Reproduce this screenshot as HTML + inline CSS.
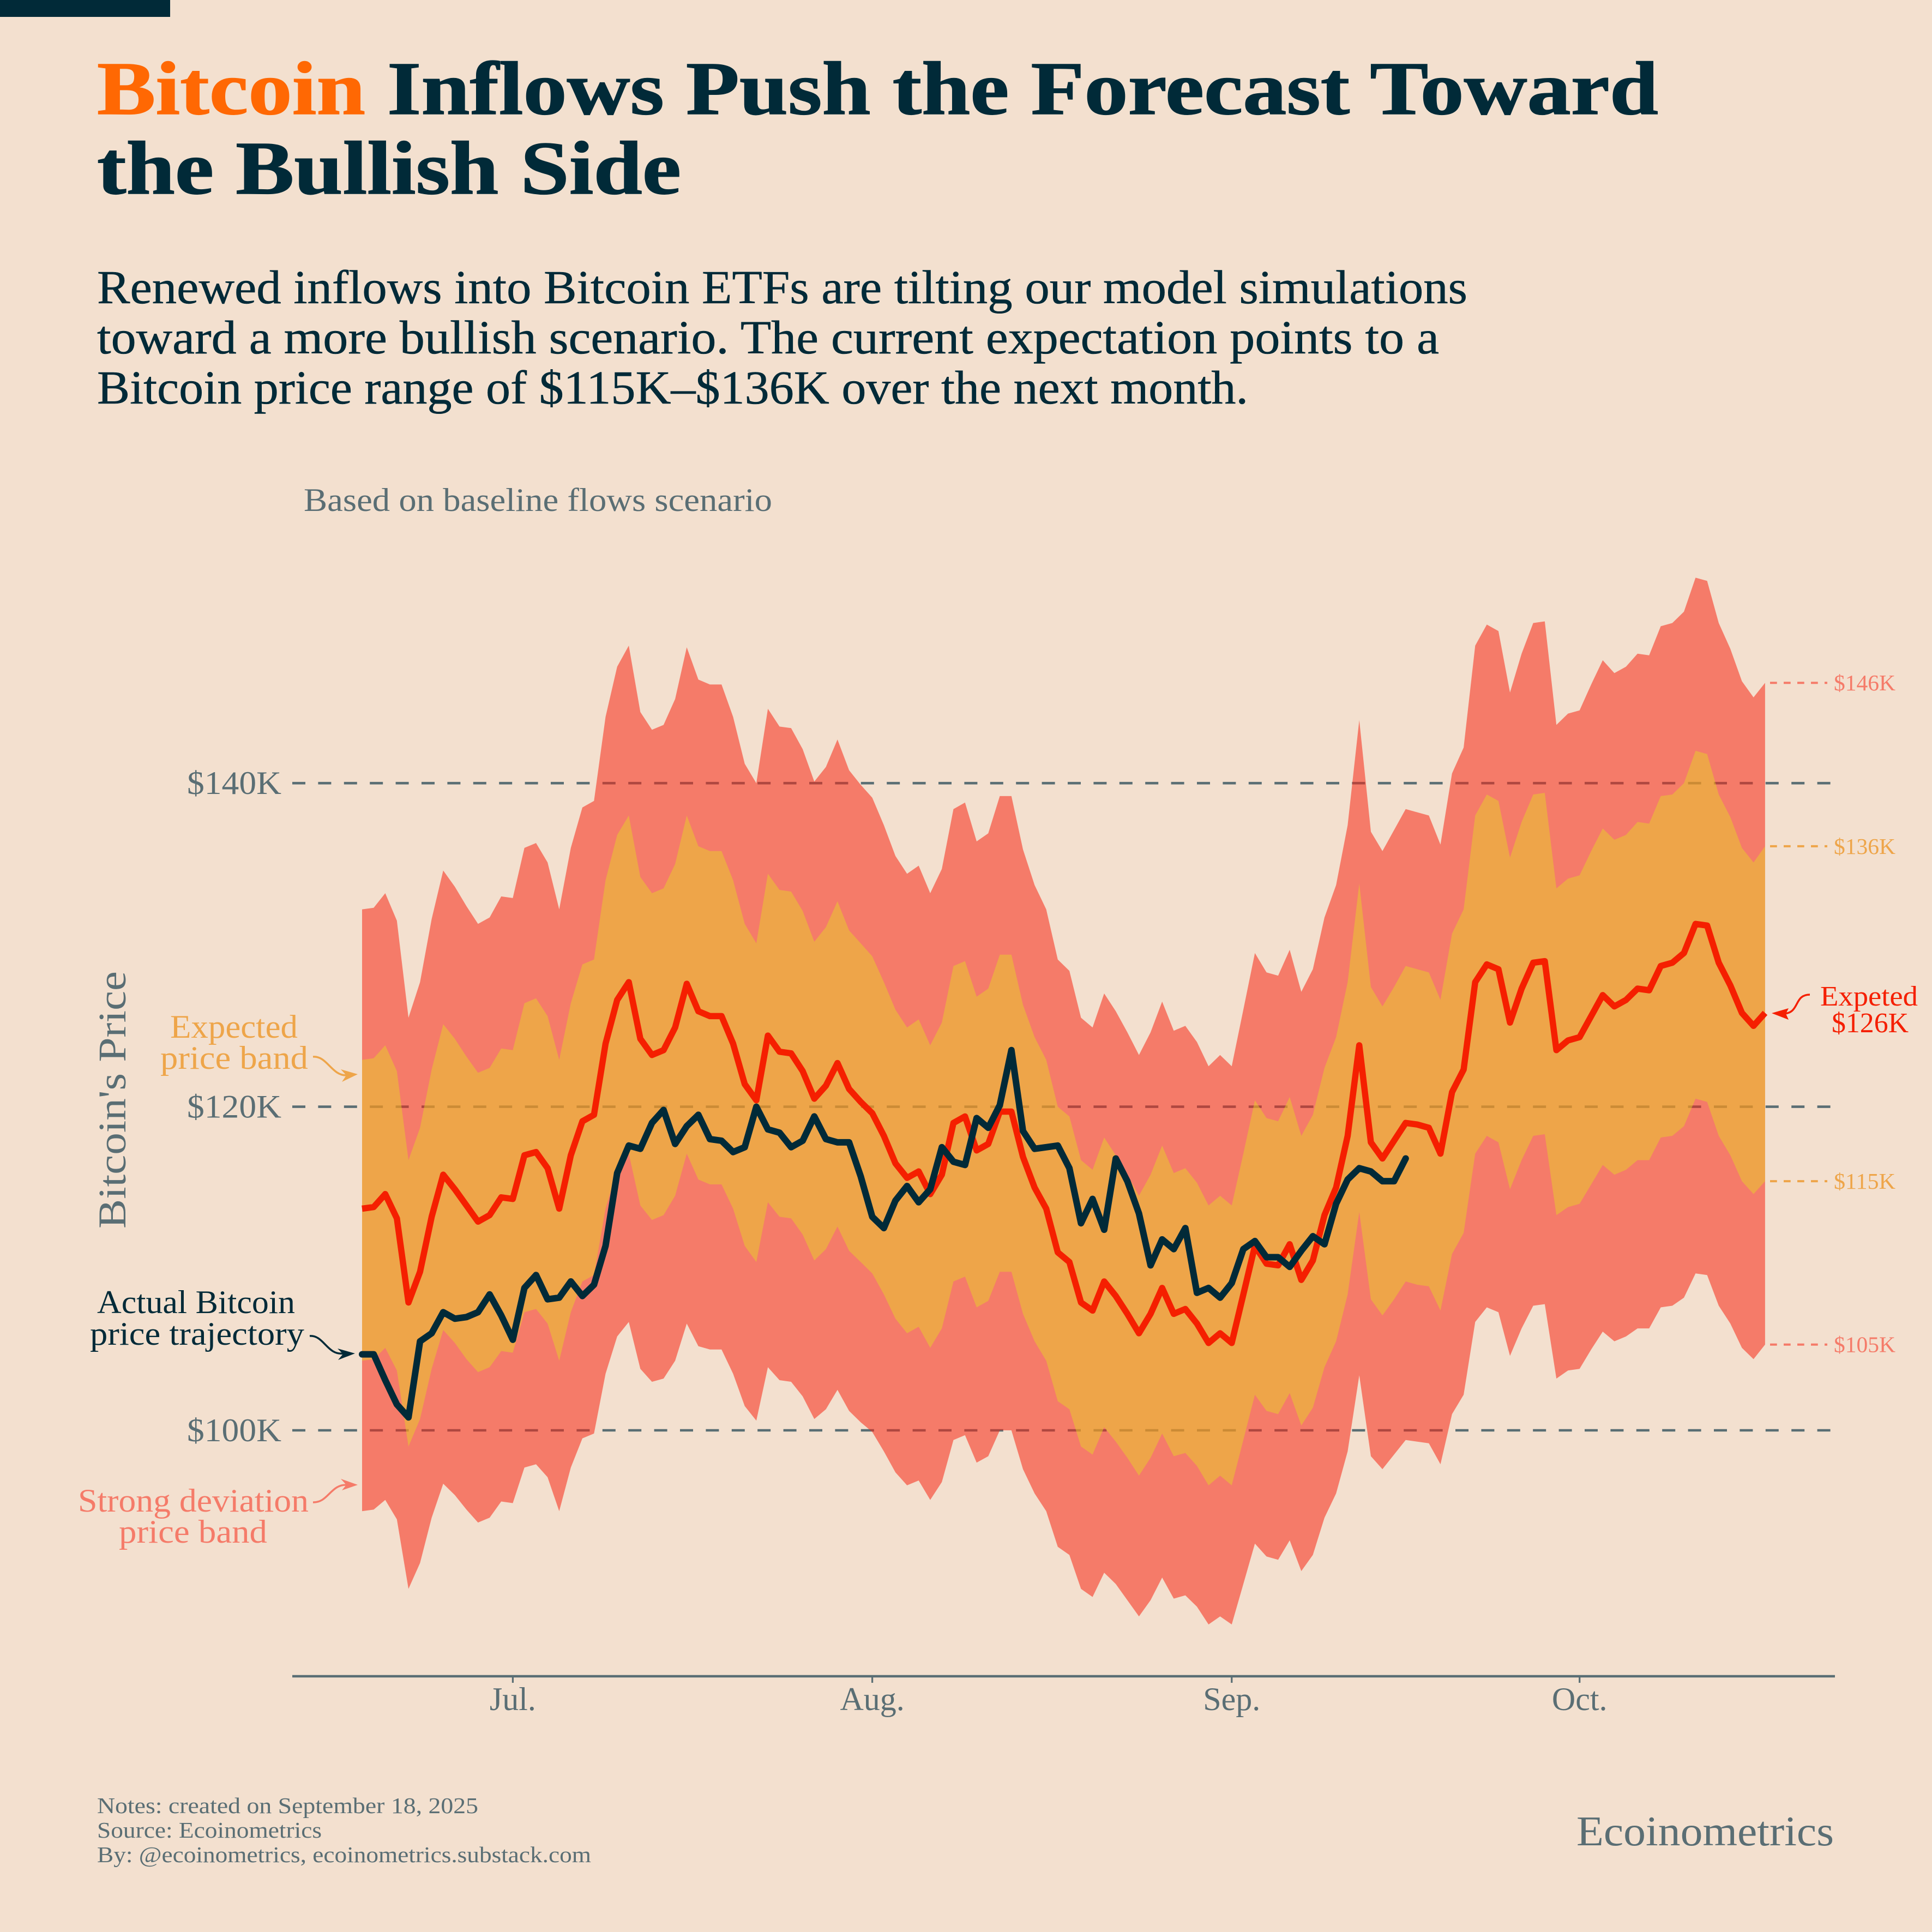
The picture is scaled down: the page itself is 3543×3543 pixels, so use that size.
<!DOCTYPE html>
<html lang="en">
<head>
<meta charset="utf-8">
<title>Bitcoin Inflows Push the Forecast Toward the Bullish Side</title>
<style>
html,body{margin:0;padding:0;background:#f3e0cf;}
svg{display:block;font-family:"Liberation Serif",serif;}
</style>
</head>
<body>
<svg id="chart" xmlns="http://www.w3.org/2000/svg" width="3543" height="3543" viewBox="0 0 3543 3543">
  <rect x="0" y="0" width="3543" height="3543" fill="#f3e0cf"/>
  <rect x="0" y="0" width="312" height="31" fill="#012a38"/>

  <g font-weight="700" font-size="139" fill="#012a38">
    <text x="178" y="209" fill="#ff6803" stroke="#ff6803" stroke-width="1.5" textLength="492" lengthAdjust="spacingAndGlyphs">Bitcoin</text>
    <text x="710" y="209" stroke="#012a38" stroke-width="1.5" textLength="2331" lengthAdjust="spacingAndGlyphs">Inflows Push the Forecast Toward</text>
    <text x="178" y="355" stroke="#012a38" stroke-width="1.5" textLength="1071" lengthAdjust="spacingAndGlyphs">the Bullish Side</text>
  </g>

  <g font-size="87" fill="#012a38" stroke="#012a38" stroke-width="0.6">
    <text x="178" y="556" textLength="2513" lengthAdjust="spacingAndGlyphs">Renewed inflows into Bitcoin ETFs are tilting our model simulations</text>
    <text x="178" y="648" textLength="2461" lengthAdjust="spacingAndGlyphs">toward a more bullish scenario. The current expectation points to a</text>
    <text x="178" y="740" textLength="2111" lengthAdjust="spacingAndGlyphs">Bitcoin price range of $115K–$136K over the next month.</text>
  </g>

  <text x="557" y="937" font-size="60" fill="#5a6e74" textLength="859" lengthAdjust="spacingAndGlyphs">Based on baseline flows scenario</text>

  <text transform="translate(230,2253) rotate(-90)" font-size="72" fill="#5a6e74" textLength="472" lengthAdjust="spacingAndGlyphs">Bitcoin's Price</text>

  <g id="grid"></g>
  <g id="bands"></g>
  <g id="lines"></g>
  <g id="xaxis"></g>
  <g id="yticks"></g>
  <g id="endlabels"></g>

  <g fill="#eea549" font-size="60">
    <text x="312" y="1903" textLength="234" lengthAdjust="spacingAndGlyphs">Expected</text>
    <text x="294" y="1960" textLength="271" lengthAdjust="spacingAndGlyphs">price band</text>
    <path d="M574,1938 C600,1936 608,1973 636,1972" fill="none" stroke="#eea549" stroke-width="3.5"/>
    <polygon points="656,1970 625,1961 635,1972 627,1984"/>
  </g>

  <g fill="#012a38" font-size="60">
    <text x="178" y="2408" textLength="363" lengthAdjust="spacingAndGlyphs">Actual Bitcoin</text>
    <text x="165" y="2466" textLength="393" lengthAdjust="spacingAndGlyphs">price trajectory</text>
    <path d="M568,2450 C594,2448 600,2486 630,2482" fill="none" stroke="#012a38" stroke-width="3.5"/>
    <polygon points="651,2482 619,2473 629,2483 620,2494"/>
  </g>

  <g fill="#f57b69" font-size="60">
    <text x="143" y="2772" textLength="423" lengthAdjust="spacingAndGlyphs">Strong deviation</text>
    <text x="218" y="2829" textLength="272" lengthAdjust="spacingAndGlyphs">price band</text>
    <path d="M574,2755 C602,2756 606,2722 636,2723" fill="none" stroke="#f57b69" stroke-width="3.5"/>
    <polygon points="656,2723 625,2712 635,2723 627,2733"/>
  </g>

  <g fill="#f51f00" font-size="52">
    <text x="3338" y="1844" textLength="179" lengthAdjust="spacingAndGlyphs">Expeted</text>
    <text x="3359" y="1893" textLength="141" lengthAdjust="spacingAndGlyphs">$126K</text>
    <path d="M3319,1824 C3288,1824 3302,1860 3268,1859" fill="none" stroke="#f51f00" stroke-width="3.5"/>
    <polygon points="3249,1858 3280,1849 3275,1859 3280,1870"/>
  </g>

  <g font-size="41" fill="#5a6e74">
    <text x="178" y="3325" textLength="699" lengthAdjust="spacingAndGlyphs">Notes: created on September 18, 2025</text>
    <text x="178" y="3370" textLength="412" lengthAdjust="spacingAndGlyphs">Source: Ecoinometrics</text>
    <text x="178" y="3415" textLength="906" lengthAdjust="spacingAndGlyphs">By: @ecoinometrics, ecoinometrics.substack.com</text>
  </g>

  <text x="2891" y="3384" font-size="77" fill="#5a6e74" textLength="472" lengthAdjust="spacingAndGlyphs">Ecoinometrics</text>
</svg>

<script>
// Daily series from 2025-06-18, values in $ thousands.
const startDate = '2025-06-18';
const upperStrong = [132.2,132.3,133.2,131.5,125.5,127.7,131.6,134.6,133.6,132.4,131.3,131.7,133.0,132.9,136.0,136.3,135.1,132.2,136.0,138.5,138.9,144.1,147.2,148.5,144.4,143.3,143.6,145.2,148.4,146.4,146.1,146.1,144.1,141.2,140.0,144.6,143.5,143.4,142.1,140.1,141.0,142.7,140.8,139.9,139.1,137.4,135.5,134.4,134.9,133.2,134.7,138.4,138.8,136.4,136.9,139.2,139.2,135.9,133.7,132.2,129.1,128.4,125.5,124.9,127.0,125.9,124.6,123.2,124.6,126.5,124.7,125.0,124.0,122.5,123.2,122.5,126.0,129.5,128.3,128.1,129.7,127.1,128.5,131.7,133.7,137.4,143.9,137.0,135.8,137.1,138.4,138.2,138.0,136.2,140.6,142.2,148.5,149.8,149.4,145.6,148.0,149.9,150.0,143.6,144.3,144.5,146.1,147.6,146.8,147.2,148.0,147.9,149.7,149.9,150.6,152.7,152.5,149.9,148.3,146.3,145.3,146.2];
const upperExpected = [122.9,123.0,123.8,122.2,116.7,118.7,122.3,125.1,124.2,123.1,122.1,122.4,123.6,123.5,126.4,126.7,125.6,122.9,126.4,128.8,129.1,134.0,136.8,138.0,134.2,133.2,133.5,135.0,138.0,136.1,135.8,135.8,134.0,131.3,130.1,134.4,133.4,133.3,132.1,130.2,131.1,132.7,130.9,130.1,129.3,127.7,126.0,124.9,125.4,123.8,125.2,128.7,129.0,126.8,127.3,129.4,129.4,126.3,124.3,122.9,120.0,119.4,116.7,116.1,118.1,117.0,115.8,114.5,115.8,117.6,115.9,116.2,115.3,113.9,114.5,113.9,117.1,120.4,119.3,119.1,120.6,118.2,119.5,122.4,124.3,127.7,133.8,127.4,126.2,127.4,128.7,128.5,128.3,126.6,130.7,132.2,138.0,139.3,138.9,135.4,137.6,139.3,139.4,133.5,134.1,134.3,135.8,137.2,136.5,136.8,137.6,137.5,139.2,139.3,140.0,142.0,141.8,139.3,137.9,136.0,135.1,136.1];
const forecastPrice = [113.7,113.8,114.6,113.1,107.9,109.8,113.2,115.8,114.9,113.9,112.9,113.3,114.4,114.3,117.0,117.2,116.2,113.7,117.0,119.1,119.5,123.9,126.6,127.7,124.2,123.2,123.5,124.9,127.6,125.9,125.6,125.6,123.9,121.4,120.4,124.4,123.4,123.3,122.2,120.5,121.3,122.7,121.1,120.3,119.6,118.2,116.5,115.6,116.0,114.6,115.8,119.0,119.4,117.3,117.7,119.7,119.7,116.9,115.0,113.7,111.0,110.4,107.9,107.4,109.2,108.3,107.2,106.0,107.2,108.8,107.2,107.5,106.6,105.4,106.0,105.4,108.4,111.4,110.3,110.2,111.5,109.3,110.5,113.3,115.0,118.2,123.8,117.8,116.8,117.9,119.0,118.9,118.7,117.1,120.9,122.3,127.7,128.8,128.5,125.2,127.3,128.9,129.0,123.5,124.1,124.3,125.6,126.9,126.2,126.6,127.3,127.2,128.7,128.9,129.5,131.3,131.2,128.9,127.5,125.8,125.0,125.8];
const lowerExpected = [104.3,104.4,105.1,103.7,99.0,100.7,103.8,106.2,105.4,104.4,103.6,103.9,104.9,104.8,107.3,107.5,106.6,104.3,107.3,109.2,109.6,113.7,116.1,117.1,113.9,113.0,113.3,114.5,117.1,115.5,115.2,115.2,113.7,111.4,110.4,114.1,113.2,113.1,112.1,110.5,111.2,112.6,111.1,110.4,109.7,108.4,106.9,106.0,106.4,105.1,106.3,109.2,109.5,107.6,108.0,109.8,109.8,107.2,105.5,104.3,101.8,101.3,99.0,98.5,100.2,99.3,98.3,97.2,98.3,99.8,98.4,98.6,97.8,96.6,97.2,96.6,99.4,102.2,101.2,101.0,102.3,100.3,101.4,103.9,105.5,108.4,113.5,108.1,107.1,108.1,109.2,109.0,108.9,107.4,110.9,112.2,117.1,118.2,117.8,114.9,116.7,118.2,118.3,113.3,113.8,114.0,115.2,116.4,115.8,116.1,116.7,116.7,118.1,118.2,118.8,120.5,120.3,118.2,117.0,115.4,114.6,115.4];
const lowerStrong = [95.0,95.1,95.7,94.5,90.2,91.8,94.6,96.7,96.0,95.1,94.3,94.6,95.6,95.5,97.7,97.9,97.1,95.0,97.7,99.5,99.8,103.5,105.8,106.7,103.8,103.0,103.2,104.3,106.6,105.2,105.0,105.0,103.5,101.5,100.6,103.9,103.1,103.0,102.1,100.7,101.3,102.5,101.2,100.5,99.9,98.7,97.4,96.6,96.9,95.7,96.8,99.4,99.7,98.0,98.4,100.0,100.0,97.6,96.1,95.0,92.8,92.3,90.2,89.7,91.2,90.5,89.5,88.5,89.5,90.9,89.6,89.8,89.1,88.0,88.5,88.0,90.5,93.0,92.2,92.0,93.2,91.3,92.3,94.6,96.1,98.7,103.4,98.4,97.6,98.5,99.4,99.3,99.2,97.9,101.0,102.2,106.7,107.6,107.3,104.6,106.3,107.7,107.8,103.2,103.7,103.8,105.0,106.1,105.5,105.8,106.3,106.3,107.6,107.7,108.2,109.7,109.6,107.7,106.6,105.1,104.4,105.3];
const actualPrice = [104.7,104.7,103.1,101.6,100.8,105.5,106.0,107.3,106.9,107.0,107.3,108.4,107.1,105.6,108.8,109.6,108.1,108.2,109.2,108.3,109.0,111.4,115.9,117.6,117.4,119.0,119.8,117.7,118.8,119.5,118.0,117.9,117.2,117.5,120.0,118.6,118.4,117.5,117.9,119.4,118.0,117.8,117.8,115.7,113.2,112.5,114.2,115.1,114.1,114.9,117.5,116.6,116.4,119.3,118.7,120.1,123.5,118.5,117.4,117.5,117.6,116.2,112.8,114.3,112.4,116.8,115.4,113.4,110.2,111.8,111.2,112.5,108.5,108.8,108.2,109.1,111.2,111.7,110.7,110.7,110.1,111.1,112.0,111.5,114.0,115.5,116.2,116.0,115.4,115.4,116.8];
const yTickValues = [100,120,140];
const yTickLabels = ['$100K','$120K','$140K'];
const monthDates = ['2025-07-01','2025-08-01','2025-09-01','2025-10-01'];
const monthLabels = ['Jul.','Aug.','Sep.','Oct.'];
const endBandLabels = ['$146K','$136K','$115K','$105K'];

const NS = 'http://www.w3.org/2000/svg';
const xStart = 664, xStep = 21.264;
const yAt100 = 2623, yPerK = 29.67;
function xScale(i){ return xStart + i * xStep; }
function yScale(v){ return yAt100 - (v - 100) * yPerK; }
function dayIndex(d){ return Math.round((Date.parse(d) - Date.parse(startDate)) / 86400000); }
function pts(arr){ return arr.map(function(v,i){ return xScale(i).toFixed(1)+','+yScale(v).toFixed(1); }); }
function bandPts(hi,lo){
  const top = pts(hi);
  const bottom = pts(lo).reverse();
  return top.concat(bottom).join(' ');
}
function make(tag,parent,attrs){
  const el = document.createElementNS(NS,tag);
  for (const k in attrs) el.setAttribute(k,attrs[k]);
  parent.appendChild(el);
  return el;
}
const grid = document.getElementById('grid');
const bands = document.getElementById('bands');
const lines = document.getElementById('lines');
const xaxis = document.getElementById('xaxis');
const yticks = document.getElementById('yticks');
const endlabels = document.getElementById('endlabels');

// gridlines and y tick labels
yTickValues.forEach(function(v,i){
  const y = yScale(v);
  const g = make('line',grid,{x1:536,x2:3358,y1:y,y2:y,stroke:'#5a6e74','stroke-width':4.6,'stroke-dasharray':'24 23.4'});
  
  
  const t = make('text',yticks,{x:516,y:y+20,'font-size':60,fill:'#5a6e74','text-anchor':'end',textLength:173,lengthAdjust:'spacingAndGlyphs'});
  
  
  t.textContent = yTickLabels[i];
});

// bands
const strongBand = make('polygon',bands,{points:bandPts(upperStrong,lowerStrong),fill:'rgb(246,40,22)','fill-opacity':0.55});


const expectedBand = make('polygon',bands,{points:bandPts(upperExpected,lowerExpected),fill:'rgb(231,207,41)','fill-opacity':0.5});



// lines
const forecastLine = make('polyline',lines,{points:pts(forecastPrice).join(' '),fill:'none',stroke:'#f51f00','stroke-width':11.5,'stroke-linejoin':'round','stroke-linecap':'butt'});


const actualLine = make('polyline',lines,{points:pts(actualPrice).join(' '),fill:'none',stroke:'#012a38','stroke-width':12,'stroke-linejoin':'round','stroke-linecap':'round'});



// x axis
const axisLine = make('line',xaxis,{x1:536,x2:3365,y1:3074,y2:3074,stroke:'#5a6e74','stroke-width':4.6});


monthDates.forEach(function(d,i){
  const x = xScale(dayIndex(d));
  const tick = make('line',xaxis,{x1:x,x2:x,y1:3074,y2:3086,stroke:'#5a6e74','stroke-width':3.2});
  
  
  const label = make('text',xaxis,{x:x,y:3136,'font-size':60,fill:'#5a6e74','text-anchor':'middle'});
  
  
  label.textContent = monthLabels[i];
});

// forecast end markers
const endSeries = [upperStrong,upperExpected,lowerExpected,lowerStrong];
const endColors = ['#f57b69','#eea549','#eea549','#f57b69'];
endSeries.forEach(function(series,i){
  const y = yScale(series[series.length-1]);
  const dash = make('line',endlabels,{x1:3246,x2:3351,y1:y,y2:y,stroke:endColors[i],'stroke-width':4,'stroke-dasharray':'12.7 12.3'});
  
  
  const label = make('text',endlabels,{x:3363,y:y+14,'font-size':41,fill:endColors[i],textLength:113,lengthAdjust:'spacingAndGlyphs'});
  
  
  label.textContent = endBandLabels[i];
});
</script>
</body>
</html>
